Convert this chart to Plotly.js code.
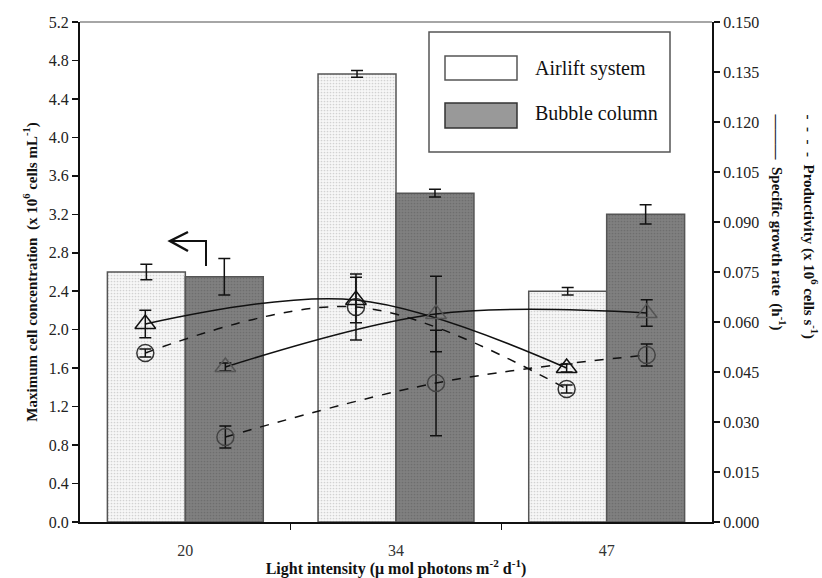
<!DOCTYPE html>
<html>
<head>
<meta charset="utf-8">
<script src="https://cdn.plot.ly/plotly-3.0.1.min.js"></script>
<style>html,body{margin:0;padding:0;background:#fff;}#chart{width:822px;height:578px;}</style>
</head>
<body>
<div id="chart"></div>
<script>
// ---- data ----
const categories = ['20', '34', '47'];
const catIndex = [0, 1, 2];
const airliftConc = [2.60, 4.66, 2.40];
const airliftConcErr = [0.08, 0.035, 0.04];
const bubbleConc = [2.55, 3.42, 3.20];
const bubbleConcErr = [0.19, 0.04, 0.10];

const airliftGrowth = [0.0594, 0.0666, 0.0462];
const airliftGrowthErr = [0.0041, 0.0068, 0.0012];
const bubbleGrowth = [0.0465, 0.0624, 0.0627];
const bubbleGrowthErr = [0.0012, 0.0113, 0.0040];

const airliftProd = [0.0507, 0.0645, 0.0399];
const airliftProdErr = [0.0012, 0.0099, 0.0012];
const bubbleProd = [0.0255, 0.0417, 0.0501];
const bubbleProdErr = [0.0033, 0.0158, 0.0033];

// ---- layout helpers ----
const L = 80, R = 712, T = 22, B = 522;
const px = x => (x - L) / (R - L);
const py = y => (B - y) / (B - T);
const serif = 'Liberation Serif';
const barW = 0.37;
const ptOff = 0.19;
const airX = catIndex.map(i => i - ptOff);
const bubX = catIndex.map(i => i + ptOff);

const traces = [
  {type: 'bar', x: catIndex, y: airliftConc, width: barW, offset: -barW, name: 'Airlift system',
   marker: {color: '#f0f0f0', line: {color: '#555', width: 1.5},
            pattern: {shape: '.', bgcolor: '#f7f7f7', fgcolor: '#d2d2d2', size: 3, solidity: 0.25}},
   error_y: {type: 'data', array: airliftConcErr, color: '#111', thickness: 1.5, width: 6}},
  {type: 'bar', x: catIndex, y: bubbleConc, width: barW, offset: 0, name: 'Bubble column',
   marker: {color: '#7c7c7c', line: {color: '#555', width: 1.5},
            pattern: {shape: '.', bgcolor: '#808080', fgcolor: '#6e6e6e', size: 3, solidity: 0.25}},
   error_y: {type: 'data', array: bubbleConcErr, color: '#111', thickness: 1.5, width: 6}},
  {type: 'scatter', mode: 'lines+markers', x: airX, y: airliftProd, yaxis: 'y2',
   line: {color: '#111', width: 1.5, dash: 'dash', shape: 'spline', smoothing: 1},
   marker: {symbol: 'circle-open', size: 17, color: '#333', line: {width: 1.5}},
   error_y: {type: 'data', array: airliftProdErr, color: '#111', thickness: 1.5, width: 6}},
  {type: 'scatter', mode: 'lines+markers', x: bubX, y: bubbleProd, yaxis: 'y2',
   line: {color: '#111', width: 1.5, dash: 'dash', shape: 'spline', smoothing: 1},
   marker: {symbol: 'circle-open', size: 17, color: '#444', line: {width: 1.5}},
   error_y: {type: 'data', array: bubbleProdErr, color: '#111', thickness: 1.5, width: 6}},
  {type: 'scatter', mode: 'lines+markers', x: airX, y: airliftGrowth, yaxis: 'y2',
   line: {color: '#111', width: 1.5, shape: 'spline', smoothing: 1},
   marker: {symbol: 'triangle-up-open', size: 18, color: '#111', line: {width: 1.5}},
   error_y: {type: 'data', array: airliftGrowthErr, color: '#111', thickness: 1.5, width: 6}},
  {type: 'scatter', mode: 'lines+markers', x: bubX, y: bubbleGrowth, yaxis: 'y2',
   line: {color: '#111', width: 1.5, shape: 'spline', smoothing: 1},
   marker: {symbol: 'triangle-up-open', size: 18, color: '#555', line: {width: 1.5}},
   error_y: {type: 'data', array: bubbleGrowthErr, color: '#111', thickness: 1.5, width: 6}}
];

const shapes = [
  // top frame line
  {type: 'line', xref: 'paper', yref: 'paper', x0: 0, x1: 1, y0: 1, y1: 1, line: {color: '#888', width: 1.5}},
  // legend box
  {type: 'rect', xref: 'paper', yref: 'paper', x0: px(429), x1: px(670), y0: py(32), y1: py(152),
   line: {color: '#555', width: 1.5}, fillcolor: '#fff'},
  {type: 'rect', xref: 'paper', yref: 'paper', x0: px(445), x1: px(517), y0: py(56), y1: py(80),
   line: {color: '#555', width: 1.5}, fillcolor: '#fff'},
  {type: 'rect', xref: 'paper', yref: 'paper', x0: px(445), x1: px(517), y0: py(103), y1: py(128),
   line: {color: '#333', width: 1.5}, fillcolor: '#999'},
  // arrow pointing to left axis
  {type: 'path', xref: 'paper', yref: 'paper',
   path: `M ${px(206)} ${py(266)} L ${px(206)} ${py(241)} L ${px(171)} ${py(241)}`,
   line: {color: '#111', width: 2}},
  {type: 'path', xref: 'paper', yref: 'paper',
   path: `M ${px(188)} ${py(232)} L ${px(170)} ${py(241)} L ${px(188)} ${py(251)}`,
   line: {color: '#111', width: 2.5}}
];

const annotations = [
  {xref: 'paper', yref: 'paper', x: px(533), y: py(69), xanchor: 'left', yanchor: 'middle', showarrow: false,
   text: 'Airlift system', font: {family: serif, size: 20, color: '#111'}},
  {xref: 'paper', yref: 'paper', x: px(533), y: py(113), xanchor: 'left', yanchor: 'middle', showarrow: false,
   text: 'Bubble column', font: {family: serif, size: 20, color: '#111'}},
  {xref: 'paper', yref: 'paper', x: px(778), y: py(112), xanchor: 'center', yanchor: 'top', showarrow: false,
   textangle: 90, text: '<b>———  Specific growth rate  (h<sup>-1</sup>)</b>',
   font: {family: serif, size: 15, color: '#111'}},
  {xref: 'paper', yref: 'paper', x: px(810), y: py(112), xanchor: 'center', yanchor: 'top', showarrow: false,
   textangle: 90, text: '<b>-  -  -  -  Productivity (x 10<sup>6</sup> cells s<sup>-1</sup>)</b>',
   font: {family: serif, size: 15, color: '#111'}}
];

const layout = {
  width: 822, height: 578,
  margin: {l: L, r: 822 - R, t: T, b: 578 - B},
  paper_bgcolor: '#fff', plot_bgcolor: '#fff',
  showlegend: false,
  font: {family: serif, size: 16, color: '#222'},
  xaxis: {
    range: [-0.5, 2.5], tickmode: 'array', tickvals: catIndex, ticktext: categories,
    tickfont: {family: serif, size: 16, color: '#333'},
    ticks: '', showgrid: false, zeroline: false, showline: true, linecolor: '#111', linewidth: 2,
    ticklabelstandoff: 13,
    minor: {tickmode: 'array', tickvals: [0.5, 1.5], ticks: 'outside', ticklen: 6, tickwidth: 1.5, tickcolor: '#111', showgrid: false},
    title: {text: '<b>Light intensity (μ mol photons m<sup>-2</sup> d<sup>-1</sup>)</b>', font: {family: serif, size: 16, color: '#111'}, standoff: 2}
  },
  yaxis: {
    range: [0, 5.2], tickmode: 'linear', tick0: 0, dtick: 0.4, tickformat: '.1f',
    tickfont: {family: serif, size: 16, color: '#222'},
    ticks: 'outside', ticklen: 6, tickwidth: 1.5, tickcolor: '#111',
    showgrid: false, zeroline: false, showline: true, linecolor: '#111', linewidth: 2,
    title: {text: '<b>Maximum cell concentration  (x 10<sup>6</sup> cells mL<sup>-1</sup>)</b>', font: {family: serif, size: 15, color: '#111'}, standoff: 8}
  },
  yaxis2: {
    range: [0, 0.15], tickmode: 'linear', tick0: 0, dtick: 0.015, tickformat: '.3f',
    tickfont: {family: serif, size: 16, color: '#222'},
    overlaying: 'y', side: 'right',
    ticks: 'outside', ticklen: 6, tickwidth: 1.5, tickcolor: '#111',
    showgrid: false, zeroline: false, showline: true, linecolor: '#111', linewidth: 2
  },
  shapes: shapes,
  annotations: annotations
};

Plotly.newPlot('chart', traces, layout, {displayModeBar: false, staticPlot: true});
</script>
</body>
</html>
